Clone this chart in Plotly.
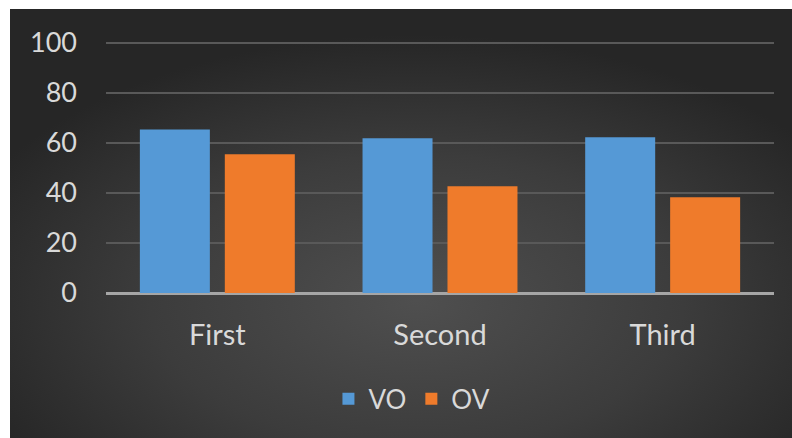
import base64
import plotly.graph_objects as go

categories = ["First", "Second", "Third"]
vo_values = [65.3, 61.8, 62.2]
ov_values = [55.4, 42.6, 38.2]
y_ticks = [0, 20, 40, 60, 80, 100]

W, H = 792, 438
L, R, T, B = 106, 18, 40, 145
pw, ph = W - L - R, H - T - B

svg = f'''<svg xmlns="http://www.w3.org/2000/svg" width="782" height="429" viewBox="0 0 782 429" preserveAspectRatio="none">
<defs><radialGradient id="g" cx="52%" cy="68%" r="62%" fx="52%" fy="68%">
<stop offset="0" stop-color="#4f4f4f"/><stop offset="0.55" stop-color="#3c3c3c"/><stop offset="1" stop-color="#262626"/></radialGradient></defs>
<rect x="0" y="0" width="782" height="429" fill="url(#g)"/></svg>'''
src = "data:image/svg+xml;base64," + base64.b64encode(svg.encode()).decode()

font = "Lato, 'Open Sans', sans-serif"
txt = "#d9d9d9"

fig = go.Figure()
fig.add_trace(go.Bar(name="VO", x=categories, y=vo_values, marker=dict(color="#5599d6", line=dict(width=0))))
fig.add_trace(go.Bar(name="OV", x=categories, y=ov_values, marker=dict(color="#ef7b2b", line=dict(width=0))))

fig.update_layout(
    width=W, height=H,
    margin=dict(l=L, r=R, t=T, b=B, autoexpand=False),
    paper_bgcolor="white",
    plot_bgcolor="rgba(0,0,0,0)",
    barmode="group", bargap=0.237, bargroupgap=0.176,
    font=dict(family=font, size=26, color=txt),
    showlegend=True,
    legend=dict(orientation="h", x=0.458, xanchor="center", y=-0.325, yanchor="top",
                font=dict(size=26, color=txt), bgcolor="rgba(0,0,0,0)", itemwidth=30),
    images=[dict(source=src, xref="paper", yref="paper",
                 x=(10 - L) / pw, y=(H - B - 9) / ph,
                 sizex=(W - 10) / pw, sizey=(H - 9) / ph,
                 xanchor="left", yanchor="top", sizing="stretch", layer="below")],
    xaxis=dict(showgrid=False, showline=False, ticks="", tickfont=dict(size=29, color=txt),
               ticklabelstandoff=22),
    yaxis=dict(range=[0, 101], tickvals=y_ticks, showgrid=True, gridcolor="#595959", gridwidth=1.5,
               zeroline=True, zerolinecolor="#a6a6a6", zerolinewidth=3,
               showline=False, ticks="", tickfont=dict(size=27, color=txt), ticklabelstandoff=28),
)

fig.write_html("out.html")
